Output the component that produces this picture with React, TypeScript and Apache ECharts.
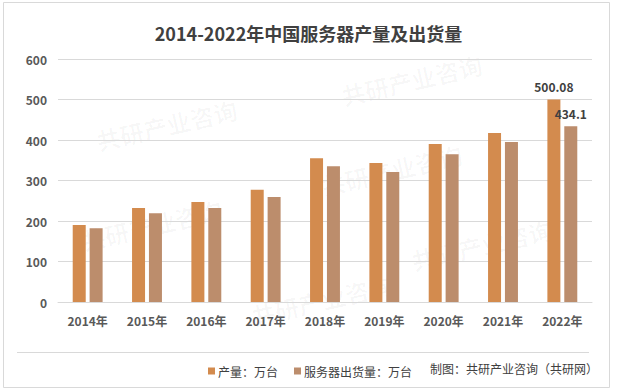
import React, { useEffect, useRef } from "react";
import * as echarts from "echarts";

const categories = ["2014年", "2015年", "2016年", "2017年", "2018年", "2019年", "2020年", "2021年", "2022年"];
const production = [190, 232, 247, 277, 355, 343, 390, 417, 500.08];
const shipments = [182, 219, 232, 259, 335, 321, 365, 395, 434.1];
const yTicks = { min: 0, max: 600, interval: 100 };
const seriesNames = ["产量：万台", "服务器出货量：万台"];
const sourceText = "制图：共研产业咨询（共研网）";
const titleText = "2014-2022年中国服务器产量及出货量";

const FONT = "'Noto Sans CJK SC', 'Noto Sans', sans-serif";

const watermarkSpots: [number, number][] = [
  [175, 125], [420, 80], [160, 225], [400, 170], [330, 300], [490, 245],
];

export default function App() {
  const ref = useRef<HTMLDivElement>(null);
  useEffect(() => {
    if (!ref.current) return;
    const chart = echarts.init(ref.current, undefined, { renderer: "svg" });
    const last = categories.length - 1;
    const wm: any[] = [];
    watermarkSpots.forEach(([x, y]) => {
      wm.push({
        type: "group",
        x,
        y,
        rotation: (13 * Math.PI) / 180,
        silent: true,
        z: 0,
        children: [
          {
            type: "text",
            x: -80,
            y: -14,
            style: { text: "共研产业咨询", font: `bold 24px ${FONT}`, fill: "rgba(0,0,0,0.03)" },
          },
          {
            type: "text",
            x: -80,
            y: 16,
            style: { text: "w w w . g o n y n . c o m", font: `15px ${FONT}`, fill: "rgba(0,0,0,0.025)" },
          },
        ],
      });
    });
    chart.setOption({
      animation: false,
      backgroundColor: "#ffffff",
      title: {
        text: titleText,
        left: "center",
        top: 19,
        textStyle: { fontFamily: FONT, fontSize: 18, fontWeight: "bold", color: "#404040" },
      },
      legend: {
        left: 203,
        top: 360,
        itemWidth: 7,
        itemHeight: 7,
        itemGap: 16,
        icon: "rect",
        textStyle: { fontFamily: FONT, fontSize: 12, color: "#404040", padding: [0, 0, 0, -2] },
        data: seriesNames,
      },
      grid: { left: 58, right: 25, top: 59, bottom: 89, containLabel: false },
      xAxis: {
        type: "category",
        data: categories,
        axisLine: { show: true, lineStyle: { color: "#d9d9d9" } },
        axisTick: { show: false },
        axisLabel: { fontFamily: FONT, fontSize: 12, fontWeight: "bold", color: "#595959", margin: 12 },
      },
      yAxis: {
        type: "value",
        min: yTicks.min,
        max: yTicks.max,
        interval: yTicks.interval,
        axisLine: { show: false },
        axisTick: { show: false },
        splitLine: { lineStyle: { color: "#d9d9d9" } },
        axisLabel: { fontFamily: FONT, fontSize: 12, fontWeight: "bold", color: "#595959", margin: 11 },
      },
      graphic: [
        ...wm,
        {
          type: "rect",
          shape: { x: 3.5, y: 2.5, width: 606, height: 385 },
          style: { fill: "none", stroke: "#d9d9d9", lineWidth: 1 },
          silent: true,
          z: 10,
        },
        {
          type: "line",
          shape: { x1: 17, y1: 352.5, x2: 589, y2: 352.5 },
          style: { stroke: "#d9d9d9", lineWidth: 1 },
          silent: true,
          z: 10,
        },
        {
          type: "text",
          x: 430,
          y: 368,
          style: {
            text: sourceText,
            font: `12px ${FONT}`,
            fill: "#404040",
            verticalAlign: "middle",
          },
          z: 10,
        },
      ],
      series: [
        {
          name: seriesNames[0],
          type: "bar",
          data: production,
          barWidth: 13,
          barGap: "30%",
          itemStyle: { color: "#D38B4E" },
          label: {
            show: true,
            position: "top",
            distance: 7,
            formatter: (p: any) => (p.dataIndex === last ? String(p.value) : ""),
            fontFamily: FONT,
            fontSize: 12,
            fontWeight: "bold",
            color: "#404040",
          },
          z: 5,
        },
        {
          name: seriesNames[1],
          type: "bar",
          data: shipments,
          barWidth: 13,
          itemStyle: { color: "#BC8D6C" },
          label: {
            show: true,
            position: "top",
            distance: 7,
            formatter: (p: any) => (p.dataIndex === last ? String(p.value) : ""),
            fontFamily: FONT,
            fontSize: 12,
            fontWeight: "bold",
            color: "#404040",
          },
          z: 5,
        },
      ],
    });
    return () => chart.dispose();
  }, []);
  return (
    <div
      ref={ref}
      style={{ position: "fixed", left: 0, top: 0, width: 617, height: 391, background: "#fff" }}
    />
  );
}
